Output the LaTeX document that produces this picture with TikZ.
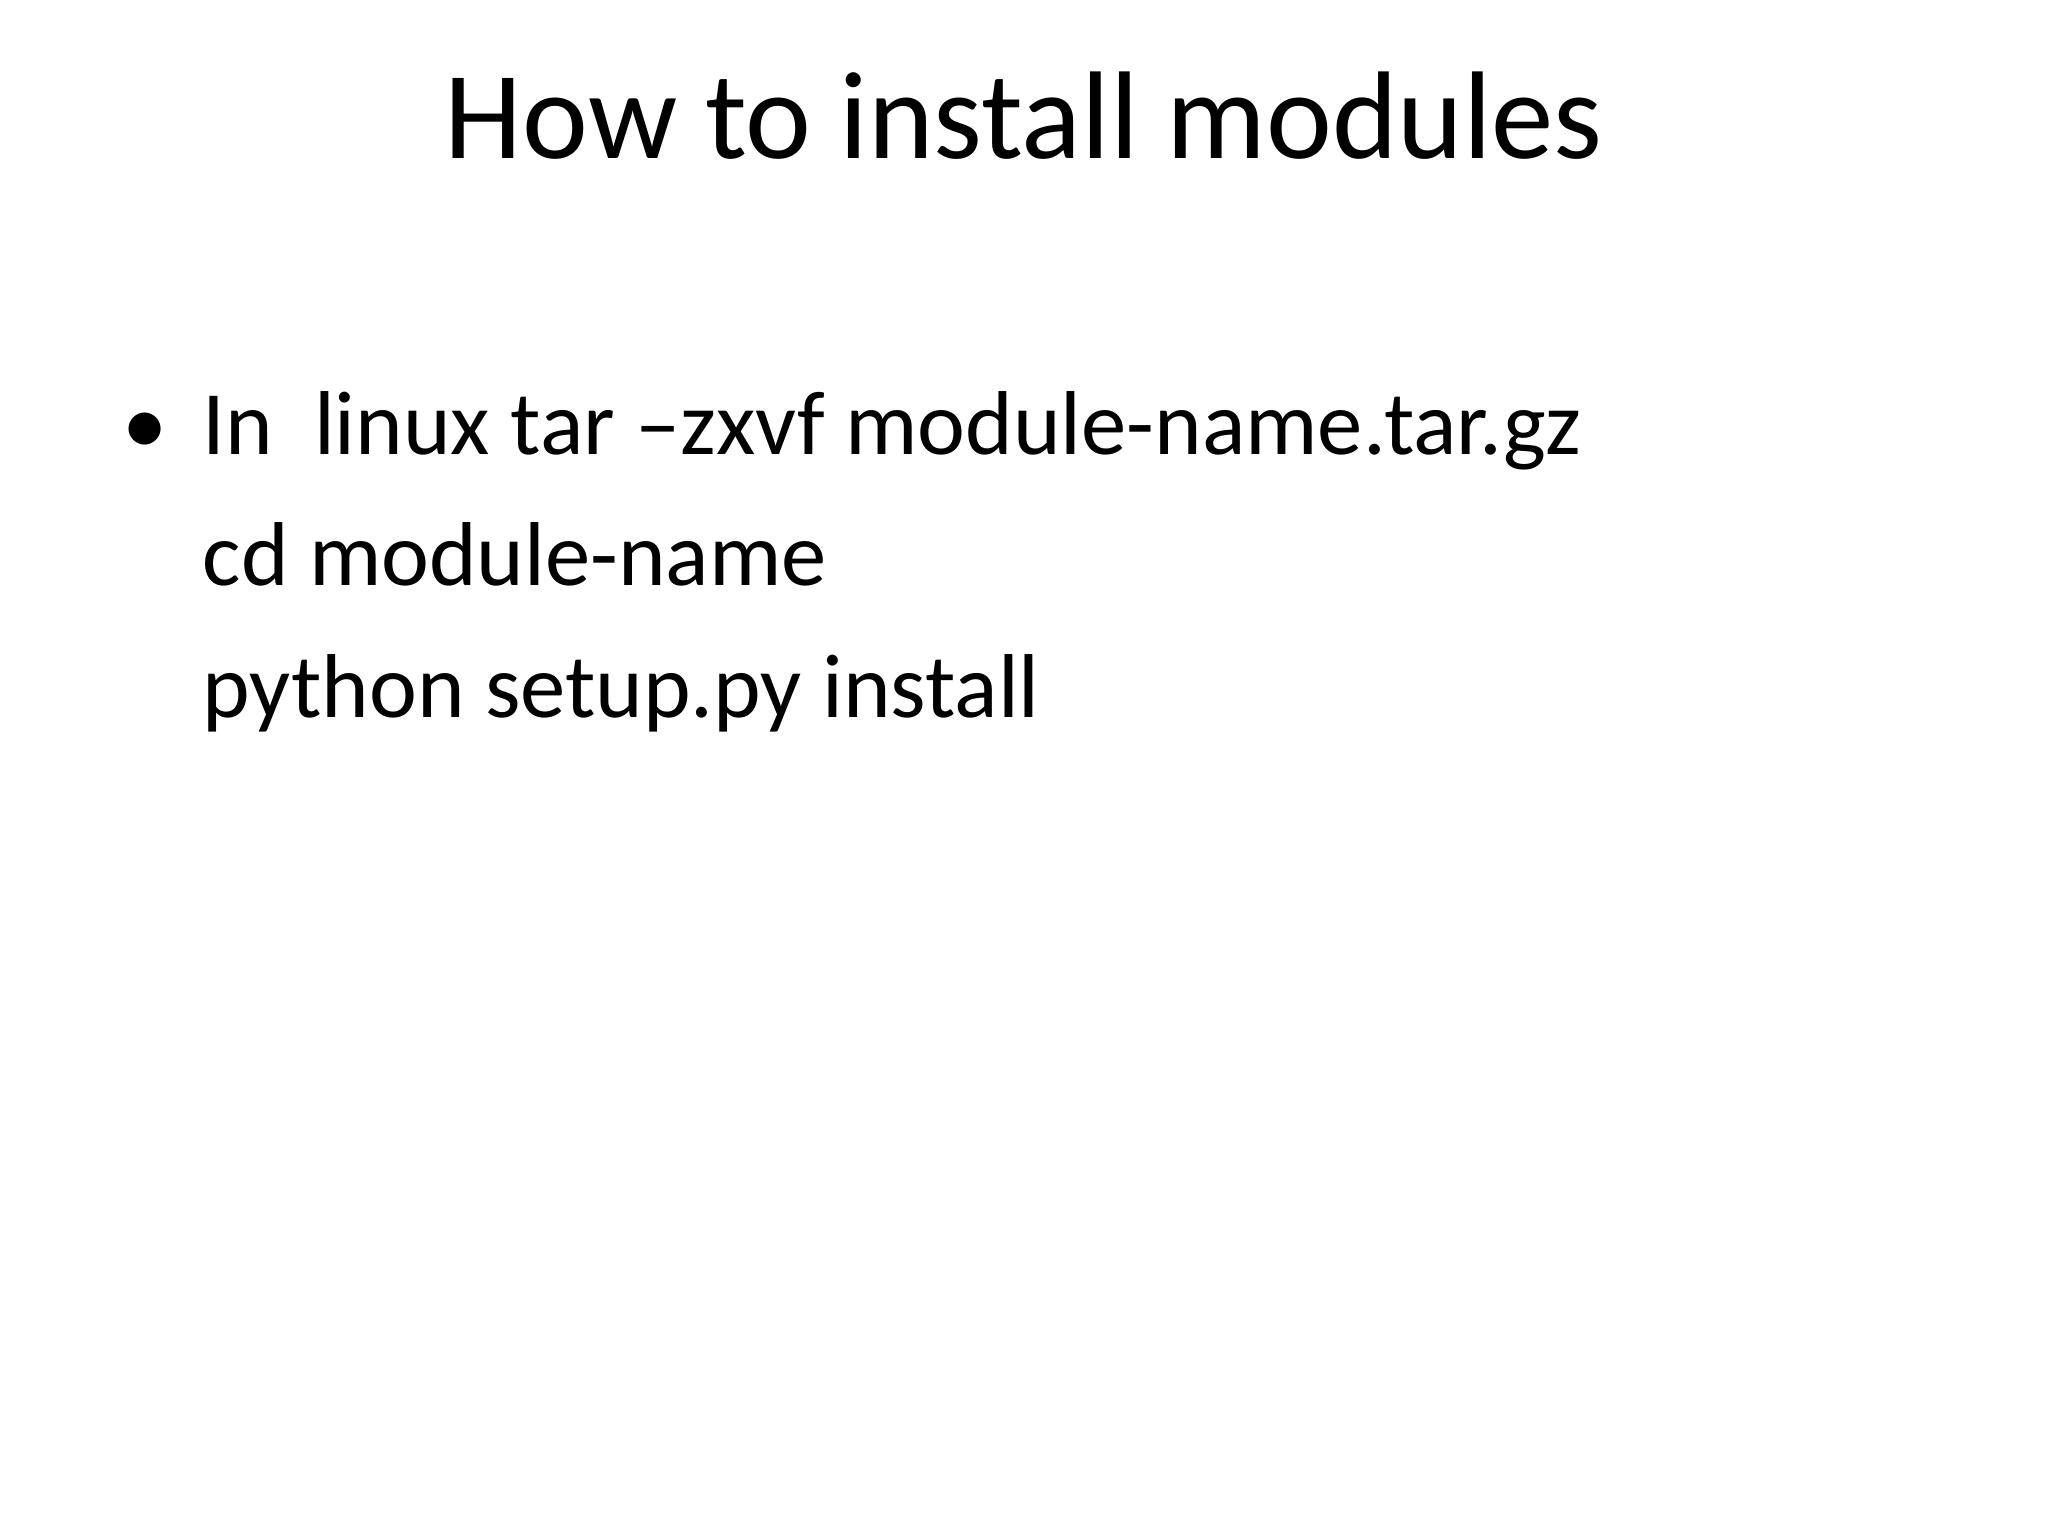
\documentclass[tikz,border=0pt]{standalone}
\usepackage{fontspec}
\setmainfont{Carlito}
\begin{document}
\begin{tikzpicture}[x=1cm,y=1cm,
  title/.style={inner sep=0pt,font=\fontsize{35.5}{42}\selectfont,anchor=base},
  body/.style={inner sep=0pt,font=\fontsize{25.8}{31}\selectfont,anchor=base west}]
\useasboundingbox[fill=white] (0,0) rectangle (20.48,15.36);
\node[title] (t) at (10.24,15.36-1.59) {How to install modules};
\node[body] (b) at (1.22,15.36-4.55) {•};
\node[body] (l1) at (2.02,15.36-4.55) {In\ \ linux tar –zxvf module-name.tar.gz};
\node[body] (l2) at (2.02,15.36-5.86) {cd module-name};
\node[body] (l3) at (2.02,15.36-7.18) {python setup.py install};
\end{tikzpicture}
\end{document}
